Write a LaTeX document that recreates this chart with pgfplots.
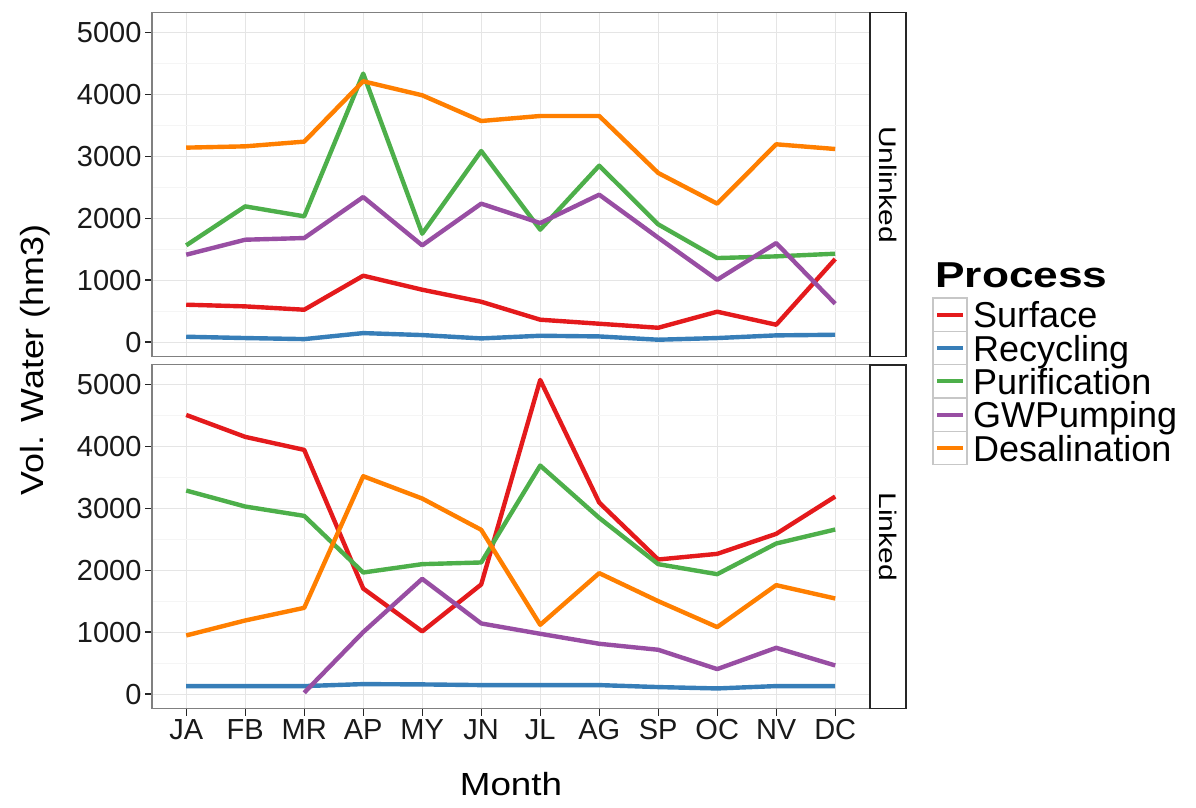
\documentclass[border=0pt]{standalone}
\usepackage{fontspec}
\setmainfont{Liberation Sans}
\usepackage{pgfplots}
\usepackage{pgfplotstable}
\pgfplotsset{compat=1.18}
\definecolor{cSurf}{HTML}{E41A1C}
\definecolor{cRec}{HTML}{377EB8}
\definecolor{cPur}{HTML}{4DAF4A}
\definecolor{cGW}{HTML}{984EA3}
\definecolor{cDes}{HTML}{FF7F00}

\pgfplotstableread{
x surf recyc purif gw desal
0 603 86 1561 1410 3138
1 576 65 2190 1652 3159
2 522 48 2029 1679 3235
3 1071 145 4333 2341 4209
4 845 113 1749 1561 3983
5 651 59 3084 2234 3568
6 361 102 1814 1921 3649
7 296 91 2847 2379 3649
8 231 38 1900 1685 2729
9 490 65 1356 1006 2234
10 280 108 1383 1598 3192
11 1340 118 1426 619 3116
}\unlinked

\pgfplotstableread{
x surf recyc purif gw desal
0 4505 129 3285 nan 946
1 4151 129 3027 nan 1188
2 3941 129 2876 22 1392
3 1704 161 1962 1000 3516
4 1011 156 2097 1860 3156
5 1769 145 2124 1140 2651
6 5070 145 3688 973 1118
7 3091 145 2844 812 1952
8 2172 113 2097 715 1500
9 2263 91 1935 403 1081
10 2586 129 2430 747 1758
11 3188 129 2656 462 1543
}\linked

\pgfplotsset{
  panel/.style={
    scale only axis, width=718pt, height=344pt,
    xmin=-0.58, xmax=11.59, ymin=-236, ymax=5316,
    xtick={0,...,11},
    ytick={0,1000,2000,3000,4000,5000},
    yticklabels={0,1000,2000,3000,4000,5000},
    minor ytick={500,1500,2500,3500,4500},
    grid=both,
    major grid style={color=black!10, line width=1.1pt},
    minor grid style={color=black!4, line width=1.1pt},
    axis line style={black!50, line width=1.3pt},
    tick align=outside, xtick pos=bottom, ytick pos=left,
    major tick length=7pt, minor tick length=0pt,
    every tick/.style={black!85, line width=1.3pt},
    tick label style={font=\fontsize{29}{34}\selectfont, text=black!90},
    /pgf/number format/assume math mode=true,
    every axis plot/.append style={line width=4.4pt, line join=round},
    unbounded coords=jump,
  }
}

\begin{document}
\begin{tikzpicture}
\useasboundingbox (0pt,0pt) rectangle (1196pt,807pt);
% top panel: Unlinked
\begin{axis}[panel, at={(152pt,450.3pt)}, anchor=south west,
  xticklabels={}, xtick style={draw=none}]
\addplot[cSurf] table[x=x,y=surf]{\unlinked};
\addplot[cRec] table[x=x,y=recyc]{\unlinked};
\addplot[cPur] table[x=x,y=purif]{\unlinked};
\addplot[cGW] table[x=x,y=gw]{\unlinked};
\addplot[cDes] table[x=x,y=desal]{\unlinked};
\end{axis}
% bottom panel: Linked
\begin{axis}[panel, at={(152pt,98.3pt)}, anchor=south west,
  xticklabels={JA,FB,MR,AP,MY,JN,JL,AG,SP,OC,NV,DC}]
\addplot[cSurf] table[x=x,y=surf]{\linked};
\addplot[cRec] table[x=x,y=recyc]{\linked};
\addplot[cPur] table[x=x,y=purif]{\linked};
\addplot[cGW] table[x=x,y=gw]{\linked};
\addplot[cDes] table[x=x,y=desal]{\linked};
\end{axis}
% strips
\draw[black!85, line width=1.3pt, fill=white] (870pt,450.3pt) rectangle (906pt,794.3pt);
\draw[black!85, line width=1.3pt, fill=white] (870pt,98.3pt) rectangle (906pt,442pt);
\begin{scope}[shift={(888pt,622.3pt)}, rotate=-90, xscale=1.25]
\node[transform shape, font=\fontsize{24}{28}\selectfont] at (0pt,0pt) {Unlinked};
\end{scope}
\begin{scope}[shift={(888pt,270.2pt)}, rotate=-90, xscale=1.25]
\node[transform shape, font=\fontsize{24}{28}\selectfont] at (0pt,0pt) {Linked};
\end{scope}
% axis titles
\begin{scope}[shift={(511pt,12pt)}, xscale=1.15]
\node[transform shape, anchor=base, inner sep=0pt, font=\fontsize{32}{38}\selectfont] at (0pt,0pt) {Month};
\end{scope}
\begin{scope}[shift={(43pt,447pt)}, rotate=90, xscale=1.12]
\node[transform shape, anchor=base, inner sep=0pt, font=\fontsize{32}{38}\selectfont] at (0pt,0pt) {Vol. Water (hm3)};
\end{scope}
% legend
\begin{scope}[shift={(935pt,519pt)}, xscale=1.23]
\node[transform shape, anchor=base west, inner sep=0pt, font=\bfseries\fontsize{36}{42}\selectfont] at (0pt,0pt) {Process};
\end{scope}
\foreach \yc/\col/\lab in {492.3/cSurf/Surface, 459/cRec/Recycling, 425.7/cPur/Purification, 392.3/cGW/GWPumping, 359/cDes/Desalination}{
  \draw[black!22, line width=1.5pt, fill=white] (933pt,\yc pt-16.7pt) rectangle (967pt,\yc pt+16.7pt);
  \draw[\col, line width=4pt] (937pt,\yc pt) -- (963pt,\yc pt);
  \node[anchor=base west, inner sep=0pt, font=\fontsize{36}{40}\selectfont] at (973pt,\yc pt-13pt) {\lab};
}
\end{tikzpicture}
\end{document}
